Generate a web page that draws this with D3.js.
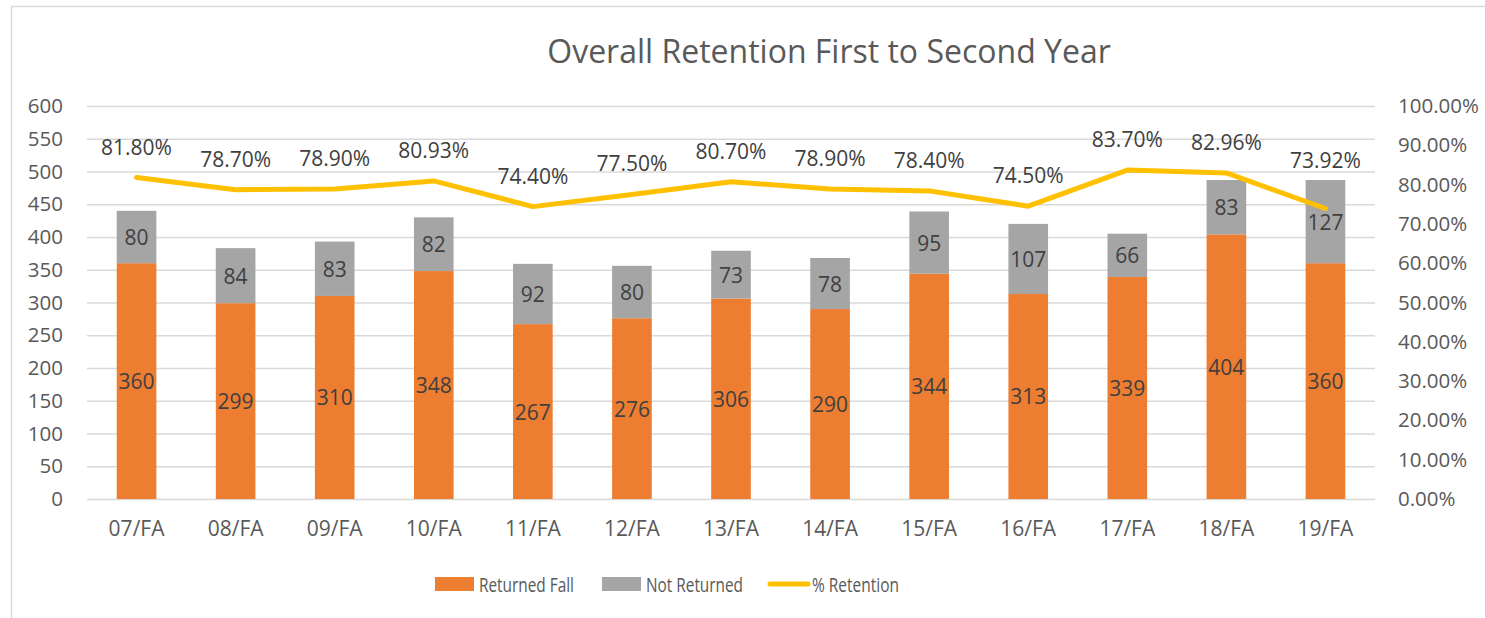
<!DOCTYPE html>
<html>
<head>
  <meta charset='utf-8'>
  <script src="https://d3js.org/d3.v7.min.js"></script>
  <style>
    body { margin: 0; background: #fff; }
    text { font-family: "Open Sans", "Noto Sans", sans-serif; }
    .tick line { stroke: #D9D9D9; }
    .tick text { fill: #595959; font-size: 20.5px; }
    .xaxis .tick text { font-size: 21px; }
  </style>
</head>
<body>
<div id="container"></div>
<script type="text/javascript">

var terms = ['07/FA', '08/FA', '09/FA', '10/FA', '11/FA', '12/FA', '13/FA',
             '14/FA', '15/FA', '16/FA', '17/FA', '18/FA', '19/FA'];
var returned = [360, 299, 310, 348, 267, 276, 306, 290, 344, 313, 339, 404, 360];
var not_returned = [80, 84, 83, 82, 92, 80, 73, 78, 95, 107, 66, 83, 127];
var retention = [81.80, 78.70, 78.90, 80.93, 74.40, 77.50, 80.70, 78.90, 78.40, 74.50, 83.70, 82.96, 73.92];
var left_ticks = [0, 50, 100, 150, 200, 250, 300, 350, 400, 450, 500, 550, 600];
var right_ticks = [0, 10, 20, 30, 40, 50, 60, 70, 80, 90, 100];

var W = 1485, H = 618;
var svg = d3.select('#container').append('svg')
    .attr('width', W).attr('height', H);

svg.append('rect').attr('width', W).attr('height', H).attr('fill', '#fff');
// chart frame
svg.append('rect')
    .attr('x', 11.5).attr('y', 6.5)
    .attr('width', W + 20).attr('height', H + 20)
    .attr('fill', 'none').attr('stroke', '#D9D9D9').attr('stroke-width', 1.5);

var plot_left = 87, plot_right = 1375, plot_top = 106, plot_bottom = 499;

var x = d3.scaleBand().domain(terms).range([plot_left, plot_right])
    .paddingInner(0.6).paddingOuter(0.3);
var y = d3.scaleLinear().domain([0, 600]).range([plot_bottom, plot_top]);
var y2 = d3.scaleLinear().domain([0, 100]).range([plot_bottom, plot_top]);

// title
svg.append('text')
    .attr('x', 829).attr('y', 50)
    .attr('text-anchor', 'middle').attr('dominant-baseline', 'central')
    .attr('font-size', 32).attr('fill', '#595959')
    .text('Overall Retention First to Second Year');

// left axis with gridlines
var gy = svg.append('g').attr('transform', 'translate(' + plot_left + ',0)')
    .call(d3.axisLeft(y).tickValues(left_ticks).tickSize(-(plot_right - plot_left)).tickPadding(24));
gy.select('.domain').remove();
gy.selectAll('.tick line').attr('stroke', '#D9D9D9').attr('stroke-width', 1.5);

// right axis
var gy2 = svg.append('g').attr('transform', 'translate(' + plot_right + ',0)')
    .call(d3.axisRight(y2).tickValues(right_ticks).tickSize(0).tickPadding(23)
        .tickFormat(function(d) { return d.toFixed(2) + '%'; }));
gy2.select('.domain').remove();

// bottom axis
var gx = svg.append('g').attr('class', 'xaxis').attr('transform', 'translate(0,' + plot_bottom + ')')
    .call(d3.axisBottom(x).tickSize(0).tickPadding(22));
gx.select('.domain').remove();

var rows = terms.map(function(t, i) {
    return {term: t, ret: returned[i], not: not_returned[i], pct: retention[i]};
});

// stacked bars
svg.selectAll('.bar-ret').data(rows).enter().append('rect')
    .attr('x', function(d) { return x(d.term); })
    .attr('width', x.bandwidth())
    .attr('y', function(d) { return y(d.ret); })
    .attr('height', function(d) { return y(0) - y(d.ret); })
    .attr('fill', '#ED7D31');

svg.selectAll('.bar-not').data(rows).enter().append('rect')
    .attr('x', function(d) { return x(d.term); })
    .attr('width', x.bandwidth())
    .attr('y', function(d) { return y(d.ret + d.not); })
    .attr('height', function(d) { return y(d.ret) - y(d.ret + d.not); })
    .attr('fill', '#A5A5A5');

var cx = function(d) { return x(d.term) + x.bandwidth() / 2; };

svg.selectAll('.lab-ret').data(rows).enter().append('text')
    .attr('x', cx)
    .attr('y', function(d) { return y(d.ret / 2); })
    .attr('text-anchor', 'middle').attr('dominant-baseline', 'central')
    .attr('font-size', 21).attr('fill', '#404040')
    .text(function(d) { return d.ret; });

svg.selectAll('.lab-not').data(rows).enter().append('text')
    .attr('x', cx)
    .attr('y', function(d) { return y(d.ret + d.not / 2); })
    .attr('text-anchor', 'middle').attr('dominant-baseline', 'central')
    .attr('font-size', 21).attr('fill', '#404040')
    .text(function(d) { return d.not; });

// retention line
var line = d3.line().x(cx).y(function(d) { return y2(d.pct); });
svg.append('path').datum(rows)
    .attr('d', line)
    .attr('fill', 'none').attr('stroke', '#FFC000')
    .attr('stroke-width', 5).attr('stroke-linejoin', 'round').attr('stroke-linecap', 'round');

svg.selectAll('.lab-pct').data(rows).enter().append('text')
    .attr('x', cx)
    .attr('y', function(d) {
        var ly = y2(d.pct) - 31;
        var barTop = y(d.ret + d.not);
        // keep the label clear of the bar when it would sit on it
        if (ly + 10 > barTop) ly = barTop - 20;
        return ly;
    })
    .attr('text-anchor', 'middle').attr('dominant-baseline', 'central')
    .attr('font-size', 21).attr('fill', '#404040')
    .text(function(d) { return d.pct.toFixed(2) + '%'; });

// legend
var legend = [
    {name: 'Returned Fall', color: '#ED7D31', type: 'rect', x: 435, w: 95},
    {name: 'Not Returned', color: '#A5A5A5', type: 'rect', x: 602, w: 97},
    {name: '% Retention', color: '#FFC000', type: 'line', x: 768, w: 87}
];
var leg_y = 584;
legend.forEach(function(l) {
    if (l.type == 'rect') {
        svg.append('rect').attr('x', l.x).attr('y', leg_y - 7)
            .attr('width', 39).attr('height', 14).attr('fill', l.color);
    } else {
        svg.append('line').attr('x1', l.x + 2).attr('x2', l.x + 40)
            .attr('y1', leg_y).attr('y2', leg_y)
            .attr('stroke', l.color).attr('stroke-width', 5).attr('stroke-linecap', 'round');
    }
    svg.append('text').attr('x', l.x + 44).attr('y', leg_y)
        .attr('dominant-baseline', 'central')
        .attr('font-size', 20.5).attr('fill', '#595959')
        .attr('textLength', l.w).attr('lengthAdjust', 'spacingAndGlyphs')
        .text(l.name);
});

</script>
</body>
</html>
